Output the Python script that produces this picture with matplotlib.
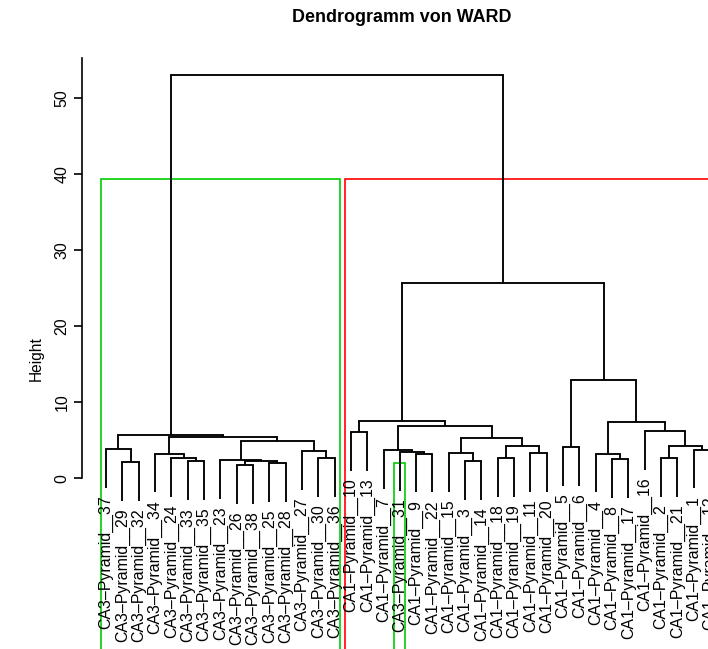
"""Ward-Dendrogramm (CA1/CA3 Pyramidenzellen) nachgebaut mit matplotlib."""
import matplotlib
matplotlib.use('Agg')
import matplotlib.pyplot as plt
from matplotlib.patches import Rectangle

plt.rcParams['font.family'] = ['Liberation Sans', 'DejaVu Sans']

# Blätter in Zeichenreihenfolge (links -> rechts)
leaf_labels = [
    'CA3–Pyramid__37', 'CA3–Pyramid__29', 'CA3–Pyramid__32', 'CA3–Pyramid__34',
    'CA3–Pyramid__24', 'CA3–Pyramid__33', 'CA3–Pyramid__35', 'CA3–Pyramid__23',
    'CA3–Pyramid__26', 'CA3–Pyramid__38', 'CA3–Pyramid__25', 'CA3–Pyramid__28',
    'CA3–Pyramid__27', 'CA3–Pyramid__30', 'CA3–Pyramid__36',
    'CA1–Pyramid__10', 'CA1–Pyramid__13', 'CA1–Pyramid__7', 'CA3–Pyramid__31',
    'CA1–Pyramid__9', 'CA1–Pyramid__22', 'CA1–Pyramid__15', 'CA1–Pyramid__3',
    'CA1–Pyramid__14', 'CA1–Pyramid__18', 'CA1–Pyramid__19', 'CA1–Pyramid__11',
    'CA1–Pyramid__20', 'CA1–Pyramid__5', 'CA1–Pyramid__6', 'CA1–Pyramid__4',
    'CA1–Pyramid__8', 'CA1–Pyramid__17', 'CA1–Pyramid__16', 'CA1–Pyramid__2',
    'CA1–Pyramid__21', 'CA1–Pyramid__1', 'CA1–Pyramid__12',
]

# Fusionen wie bei R (hclust$merge): negativ = Blatt (Position), positiv = frühere Fusion
merge_left = [-9, -11, -2, -6, 1, -8, -5, -14, -4, -13, -1, 6, 9, 11,
              -20, -19, -18, -23, -22, -25, -27, 20, 19, 17, -16, 25,
              -29, -32, -31, -35, -37, 30, -34, 29, 27, 26, 14]
merge_right = [-10, -12, -3, -7, 2, 5, 4, -15, 7, 8, 3, 10, 12, 13,
               -21, 15, 16, -24, 18, -26, -28, 21, 22, 23, -17, 24,
               -30, -33, 28, -36, -38, 31, 32, 33, 34, 35, 36]
merge_height = [1.8, 2.0, 2.15, 2.24, 2.28, 2.46, 2.72, 2.72, 3.25, 3.55, 3.85, 4.9, 5.4, 5.7,
                3.25, 3.46, 3.68, 2.28, 3.33, 2.72, 3.38, 4.25, 5.35, 6.9, 6.1, 7.55,
                4.1, 2.58, 3.25, 2.72, 3.78, 4.2, 6.2, 7.45, 12.9, 25.7, 53.0]

# rect.hclust-Kästen: erstes/letztes Blatt, Oberkante, Farbe
box_first = [1, 16, 19]
box_last = [15, 38, 19]
box_top = [(53.0 + 25.7) / 2, (53.0 + 25.7) / 2, 2.0]
box_color = ['#00CD00', '#FF0000', '#00CD00']

y_ticks = [0, 10, 20, 30, 40, 50]

W, H = 708, 649
fig = plt.figure(figsize=(W / 100, H / 100), dpi=100)
# Plotbereich ragt rechts und unten über das Bild hinaus (Original ist beschnitten)
px_left, px_right, px_top, px_bottom = 82, 734, 57.8, 660
ax = fig.add_axes([px_left / W, 1 - px_bottom / H,
                   (px_right - px_left) / W, (px_bottom - px_top) / H])
ax.set_xlim(-0.48, 39.48)
ax.set_ylim(-23.9, 55.3)

hang = 0.1 * (max(merge_height) - min(merge_height))
node_x = {}
lw = 1.35

for i, (a, b, h) in enumerate(zip(merge_left, merge_right, merge_height), start=1):
    xs = []
    for c in (a, b):
        if c < 0:
            x = -c
            ax.plot([x, x], [h - hang, h], color='black', lw=lw, solid_capstyle='butt')
            ax.annotate(leaf_labels[x - 1], (x, h - hang), xytext=(0, -5.5),
                        textcoords='offset points', rotation=90,
                        ha='center', va='top', fontsize=11.4, annotation_clip=False)
        else:
            x = node_x[c]
            ax.plot([x, x], [merge_height[c - 1], h], color='black', lw=lw,
                    solid_capstyle='butt')
        xs.append(x)
    ax.plot(xs, [h, h], color='black', lw=lw, solid_capstyle='projecting')
    node_x[i] = (xs[0] + xs[1]) / 2

# Kästen um die Cluster
y_bottom = ax.get_ylim()[0]
for first, last, top, col in zip(box_first, box_last, box_top, box_color):
    ax.add_patch(Rectangle((first - 0.34, y_bottom), (last + 0.33) - (first - 0.34),
                           top - y_bottom, fill=False, edgecolor=col, lw=1.2,
                           clip_on=False))

# Achsen im R-Stil
for s in ('top', 'right', 'bottom'):
    ax.spines[s].set_visible(False)
ax.spines['left'].set_bounds(0, 55.3)
ax.spines['left'].set_linewidth(1.2)
ax.set_xticks([])
ax.set_yticks(y_ticks)
ax.set_yticklabels([str(t) for t in y_ticks], rotation=90, va='center', fontsize=11.5)
ax.tick_params(axis='y', length=6, width=1.2, pad=3)

fig.text(36 / W, 1 - 359 / H, 'Height', rotation=90, ha='center', va='center', fontsize=11.2)
fig.text(402 / W, 1 - 18 / H, 'Dendrogramm von WARD', ha='center', va='center',
         fontsize=12.9, fontweight='bold')

fig.savefig('out.png', dpi=100)
